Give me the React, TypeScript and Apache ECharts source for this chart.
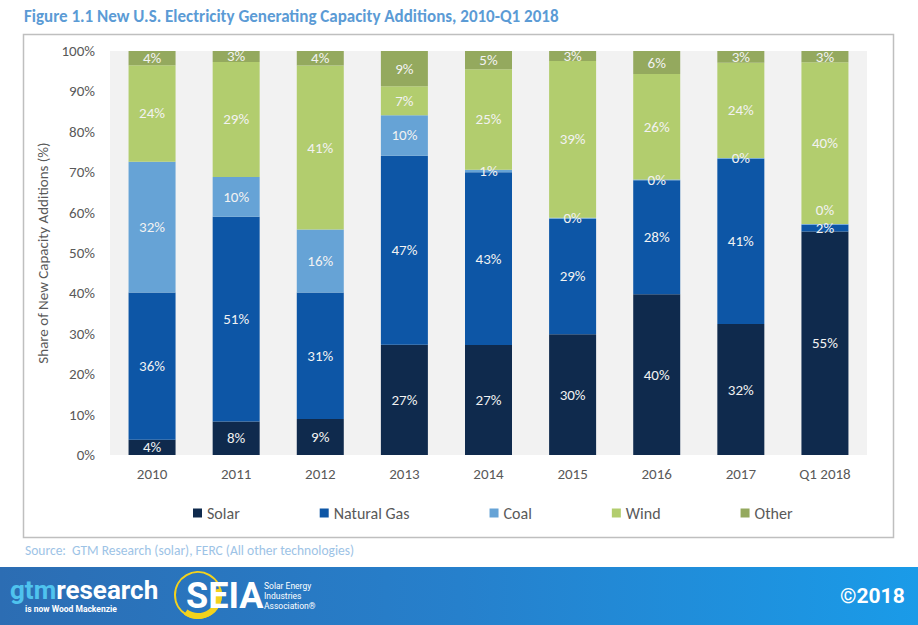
import React, { useEffect, useRef } from "react";
import * as echarts from "echarts";

const categories = ["2010", "2011", "2012", "2013", "2014", "2015", "2016", "2017", "Q1 2018"];
const solar = [3.8, 8.3, 8.9, 27.3, 27.2, 29.9, 39.8, 32.4, 55.3];
const naturalGas = [36.4, 50.7, 31.3, 46.8, 42.8, 28.6, 28.2, 40.9, 1.7];
const coal = [32.4, 9.8, 15.6, 10.0, 0.6, 0.2, 0.2, 0.2, 0.2];
const wind = [23.9, 28.5, 40.6, 7.2, 24.9, 38.8, 26.1, 23.6, 40.0];
const other = [3.5, 2.7, 3.6, 8.7, 4.5, 2.5, 5.7, 2.9, 2.8];
const yTicks = [0, 10, 20, 30, 40, 50, 60, 70, 80, 90, 100];

const FONT = "Carlito, 'Liberation Sans Narrow', 'Open Sans', sans-serif";
const GREY = "#595959";

export default function App() {
  const ref = useRef<HTMLDivElement>(null);
  useEffect(() => {
    if (!ref.current) return;
    const chart = echarts.init(ref.current, null, { renderer: "svg" });
    const labelCfg = {
      show: true,
      position: "inside",
      color: "#f2f2f2",
      fontFamily: FONT,
      fontSize: 15,
      formatter: (p: any) => Math.round(p.value) + "%",
    };
    const mk = (name: string, data: any[], color: string, extra: any = {}) => ({
      name,
      type: "bar",
      stack: "total",
      barWidth: 47,
      data,
      itemStyle: { color },
      label: labelCfg,
      emphasis: { disabled: true },
      ...extra,
    });
    chart.setOption({
      animation: false,
      backgroundColor: "#ffffff",
      textStyle: { fontFamily: FONT },
      grid: {
        left: 110,
        right: 51,
        top: 51,
        bottom: 170,
        show: true,
        backgroundColor: "#f2f2f2",
        borderWidth: 0,
      },
      legend: {
        top: 500,
        left: 188,
        itemWidth: 9,
        itemHeight: 9,
        itemGap: 80,
        icon: "rect",
        textStyle: { color: GREY, fontSize: 16, fontFamily: FONT },
        data: ["Solar", "Natural Gas", "Coal", "Wind", "Other"],
      },
      xAxis: {
        type: "category",
        data: categories,
        axisLine: { show: false },
        axisTick: { show: false },
        axisLabel: { color: GREY, fontSize: 15, margin: 11, fontFamily: FONT },
      },
      yAxis: {
        type: "value",
        min: yTicks[0],
        max: yTicks[yTicks.length - 1],
        interval: 10,
        splitLine: { show: false },
        axisLine: { show: false },
        axisTick: { show: false },
        axisLabel: { color: GREY, fontSize: 15, margin: 15, formatter: "{value}%", fontFamily: FONT },
        name: "Share of New Capacity Additions (%)",
        nameLocation: "middle",
        nameRotate: 90,
        nameGap: 60,
        nameTextStyle: { color: GREY, fontSize: 15, fontFamily: FONT },
      },
      series: [
        mk("Solar", solar, "#0f2a4d"),
        mk("Natural Gas", naturalGas, "#0d56a6"),
        mk("Coal", coal, "#66a3d6", {
          labelLayout: (p: any) => (p.dataIndex === categories.length - 1 ? { dy: -14 } : {}),
        }),
        mk("Wind", wind, "#b2cd6e"),
        mk("Other", other, "#94a95e"),
      ],
      graphic: [
        {
          type: "text",
          left: 24,
          top: 8,
          style: {
            text: "Figure 1.1 New U.S. Electricity Generating Capacity Additions, 2010-Q1 2018",
            fill: "#5b9bd5",
            font: "bold 17px " + FONT,
          },
        },
        {
          type: "rect",
          shape: { x: 23.5, y: 34.5, width: 870, height: 503 },
          style: { fill: "none", stroke: "#bfbfbf", lineWidth: 1.5 },
          silent: true,
          z: -1,
        },
        {
          type: "text",
          left: 25,
          top: 543,
          style: {
            text: "Source:  GTM Research (solar), FERC (All other technologies)",
            fill: "#9dc3e6",
            font: "13.5px " + FONT,
          },
        },
        {
          type: "rect",
          shape: { x: 0, y: 567, width: 918, height: 58 },
          style: {
            fill: new echarts.graphic.LinearGradient(0, 0, 1, 0, [
              { offset: 0, color: "#2c6db3" },
              { offset: 0.5, color: "#2680cc" },
              { offset: 1, color: "#1a9be8" },
            ]),
          },
          silent: true,
        },
        {
          type: "text",
          x: 10,
          y: 578,
          style: {
            text: "{a|gtm}{b|research}",
            rich: {
              a: { fill: "#4fc3ee", font: "bold 26px 'Liberation Sans Narrow', Roboto, sans-serif", lineHeight: 24 },
              b: { fill: "#ffffff", font: "bold 26px 'Liberation Sans Narrow', Roboto, sans-serif", lineHeight: 24 },
            },
          },
        },
        {
          type: "text",
          x: 25,
          y: 604,
          style: { text: "is now Wood Mackenzie", fill: "#ffffff", font: "bold 8.5px Roboto, sans-serif" },
        },
        {
          type: "arc",
          shape: { cx: 198, cy: 595, r: 23, startAngle: 0, endAngle: Math.PI * 2 },
          style: { stroke: "#f3d21c", lineWidth: 2, fill: "none" },
        },
        {
          type: "arc",
          shape: { cx: 198, cy: 595, r: 21, startAngle: -0.3, endAngle: 2.2 },
          style: { stroke: "#f3d21c", lineWidth: 6, fill: "none" },
        },
        {
          type: "text",
          x: 186,
          y: 578,
          style: { text: "SEIA", fill: "#ffffff", font: "bold 36px 'Liberation Sans Narrow', Roboto, sans-serif" },
        },
        {
          type: "text",
          x: 264,
          y: 581,
          style: {
            text: "Solar Energy\nIndustries\nAssociation®",
            fill: "#ffffff",
            font: "8.5px 'Liberation Sans Narrow', Roboto, sans-serif",
            lineHeight: 10,
          },
        },
        {
          type: "text",
          x: 840,
          y: 585,
          style: { text: "©2018", fill: "#ffffff", font: "bold 21px Roboto, sans-serif" },
        },
      ],
    });
    return () => chart.dispose();
  }, []);
  return <div ref={ref} style={{ position: "fixed", left: 0, top: 0, width: 918, height: 625 }} />;
}
